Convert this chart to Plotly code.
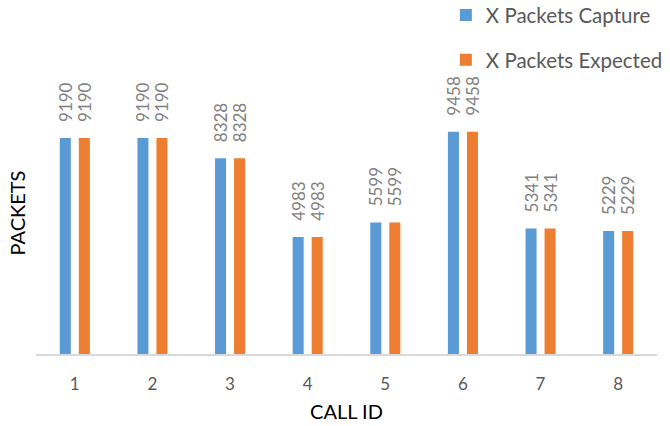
import plotly.graph_objects as go

call_ids = ["1", "2", "3", "4", "5", "6", "7", "8"]
packets_capture = [9190, 9190, 8328, 4983, 5599, 9458, 5341, 5229]
packets_expected = [9190, 9190, 8328, 4983, 5599, 9458, 5341, 5229]

FONT = "Lato"
GRAY = "#7f7f7f"

fig = go.Figure()
for name, vals, color, grp in [
    ("X Packets Capture", packets_capture, "#5b9bd5", "a"),
    ("X Packets Expected", packets_expected, "#ed7d31", "b"),
]:
    fig.add_trace(go.Bar(
        x=call_ids, y=vals, name=name, marker_color=color,
        marker_line_width=0, legendgroup=grp,
        text=vals, texttemplate="\u00a0\u00a0\u00a0%{y}", textposition="outside",
        textangle=-90, constraintext="none", cliponaxis=False,
        textfont=dict(family=FONT, size=17, color=GRAY),
    ))

fig.update_layout(
    width=670, height=426,
    margin=dict(l=36, r=13, t=72, b=72, autoexpand=False),
    paper_bgcolor="white", plot_bgcolor="white",
    barmode="group", bargap=0.51, bargroupgap=0.42,
    showlegend=True,
    legend=dict(
        x=0.66, y=1.272, xanchor="left", yanchor="top",
        font=dict(family=FONT, size=20.5, color="#595959"),
        tracegroupgap=15, traceorder="grouped",
        itemwidth=30, bgcolor="rgba(0,0,0,0)",
    ),
    xaxis=dict(
        type="category", showgrid=False, showline=True,
        linecolor="#d9d9d9", linewidth=1.5, ticks="",
        ticklabelstandoff=14,
        tickfont=dict(family=FONT, size=17, color="#595959"),
        title=dict(text="CALL ID", font=dict(family=FONT, size=20, color="black"), standoff=12),
    ),
    yaxis=dict(
        range=[0, 12000], showgrid=False, showline=False,
        showticklabels=False, ticks="", zeroline=False,
        title=dict(text="PACKETS", font=dict(family=FONT, size=20, color="black"), standoff=4),
    ),
)

fig.write_html("out.html")
